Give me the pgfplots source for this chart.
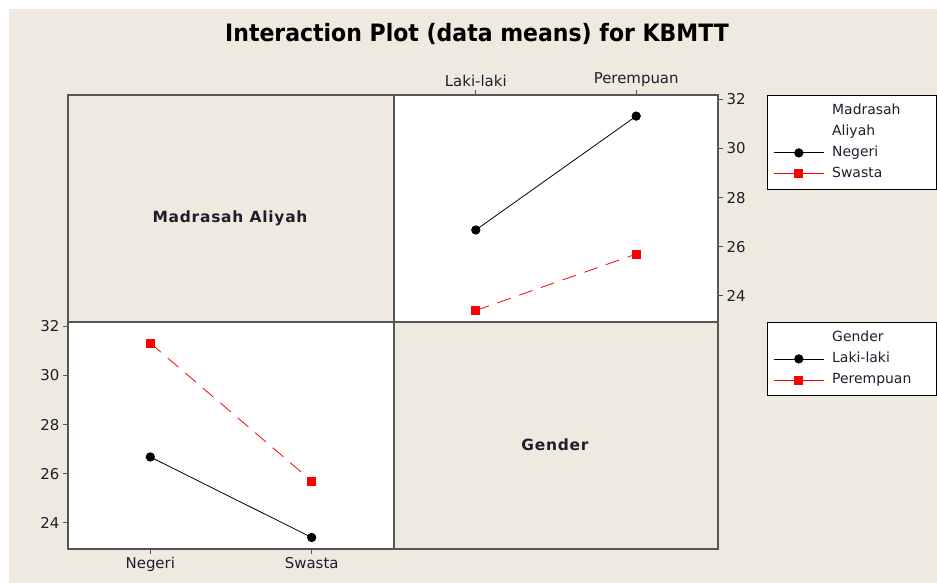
\documentclass[border=0pt]{standalone}
\usepackage{pgfplots}
\pgfplotsset{compat=1.18}
\usepackage{fontspec}
\setmainfont{DejaVu Sans}
\definecolor{bg}{RGB}{238,234,224}
\definecolor{frm}{RGB}{85,85,85}
\definecolor{txt}{RGB}{30,30,45}
\newcommand{\lt}[1]{\makebox[102bp][l]{\hspace{6bp}#1}}
\begin{document}
\begin{tikzpicture}
\useasboundingbox (0bp,0bp) rectangle (937bp,583bp);
\fill[white] (0bp,0bp) rectangle (937bp,583bp);
\fill[bg] (9bp,0bp) rectangle (937bp,574bp);
\draw[frm, line width=1.3bp] (68bp,261bp) rectangle (394bp,488bp);
\draw[frm, line width=1.3bp] (394bp,34bp) rectangle (718bp,261bp);
\node[font=\fontsize{15.5}{18}\selectfont\bfseries\addfontfeature{LetterSpace=5}, text=txt] at (230bp,365bp) {Madrasah Aliyah};
\node[font=\fontsize{15.5}{18}\selectfont\bfseries\addfontfeature{LetterSpace=5}, text=txt] at (555bp,138bp) {Gender};
\node[anchor=base, font=\fontsize{24}{28}\selectfont\bfseries] at (477bp,541bp) {\scalebox{0.92}[1]{Interaction Plot (data means) for KBMTT}};
\pgfplotsset{
  myaxis/.style={
    scale only axis,
    xmin=-0.51, xmax=1.51, ymin=22.93, ymax=32.18,
    axis background/.style={fill=white},
    axis line style={frm, line width=1.3bp},
    tick style={frm, line width=1bp},
    major tick length=5bp,
    tick align=outside,
    xtick={0,1}, ytick={24,26,28,30,32},
    ticklabel style={font=\fontsize{15}{18}\selectfont, text=txt},
    /pgf/number format/assume math mode=true,
    legend style={draw=black, line width=0.8bp, fill=white,
      font=\fontsize{14}{16}\selectfont, text=txt,
      at={(1,1)}, anchor=north west, inner xsep=6bp, inner ysep=6.5bp,
      row sep=3bp,
      nodes={text height=10bp, text depth=3bp, inner ysep=2.5bp}},
    legend cell align=left,
    legend image code/.code={
      \draw[mark repeat=2, mark phase=2, ##1, solid] plot coordinates {(0bp,0bp) (25bp,0bp) (50bp,0bp)};
    },
  },
  s1/.style={color=black, line width=0.8bp, mark=*, mark size=4.2bp, mark options={solid}},
  s2/.style={color=red, line width=0.8bp, dash pattern=on 14bp off 9bp, mark=square*, mark size=4bp, mark options={solid}},
}
\begin{axis}[myaxis, at={(394bp,261bp)}, anchor=south west, width=324bp, height=227bp,
  xtick pos=right, xticklabel pos=right, ytick pos=right, yticklabel pos=right,
  xticklabels={Laki-laki,Perempuan},
  legend style={xshift=49bp}]
\addlegendimage{empty legend}\addlegendentry{\lt{Madrasah}}
\addlegendimage{empty legend}\addlegendentry{\lt{Aliyah}}
\addplot[s1] coordinates {(0,26.68) (1,31.32)};
\addlegendentry{\lt{Negeri}}
\addplot[s2] coordinates {(0,23.40) (1,25.70)};
\addlegendentry{\lt{Swasta}}
\end{axis}
\begin{axis}[myaxis, at={(68bp,34bp)}, anchor=south west, width=326bp, height=227bp,
  xtick pos=left, xticklabel pos=left, ytick pos=left, yticklabel pos=left,
  xticklabels={Negeri,Swasta},
  legend style={xshift=373bp}]
\addlegendimage{empty legend}\addlegendentry{\lt{Gender}}
\addplot[s1] coordinates {(0,26.68) (1,23.40)};
\addlegendentry{\lt{Laki-laki}}
\addplot[s2] coordinates {(0,31.32) (1,25.70)};
\addlegendentry{\lt{Perempuan}}
\end{axis}
\end{tikzpicture}
\end{document}
